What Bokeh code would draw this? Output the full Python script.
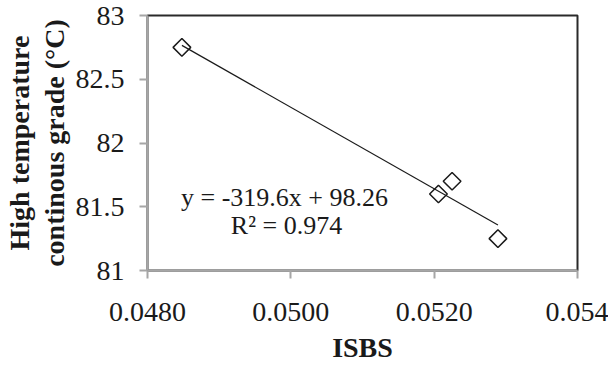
import math
from bokeh.plotting import figure
from bokeh.models import Range1d, FixedTicker, Label, Title
from bokeh.embed import file_html
from bokeh.resources import INLINE

# data
isbs = [0.04848, 0.05206, 0.05225, 0.05289]
hight = [82.75, 81.60, 81.70, 81.25]
slope = -319.6
intercept = 98.26
eq_text = "y = -319.6x + 98.26"
r2_text = "R² = 0.974"
x_ticks = [0.048, 0.050, 0.052, 0.054]
x_tick_labels = ["0.0480", "0.0500", "0.0520", "0.054"]
y_ticks = [81, 81.5, 82, 82.5, 83]
y_tick_labels = ["81", "81.5", "82", "82.5", "83"]
x_title = "ISBS"
y_title_lines = ["High temperature", "continous grade (°C)"]

FONT = "Liberation Serif"
INK = "#1a1a1a"

p = figure(width=608, height=365, output_backend="svg", toolbar_location=None,
           x_range=Range1d(0.048, 0.054), y_range=Range1d(81, 83),
           min_border_left=147, min_border_right=31, min_border_top=15, min_border_bottom=93)
p.background_fill_color = "white"
p.border_fill_color = "white"
p.outline_line_color = "#2a2a2a"
p.outline_line_width = 2
p.grid.visible = False

for ax in (p.xaxis[0], p.yaxis[0]):
    ax.axis_line_color = "#a6a6a6"
    ax.axis_line_width = 2
    ax.major_tick_line_color = "#a6a6a6"
    ax.major_tick_line_width = 2
    ax.major_tick_in = 0
    ax.major_tick_out = 8
    ax.minor_tick_line_color = None
    ax.major_label_text_font = FONT
    ax.major_label_text_font_size = "28px"
    ax.major_label_text_color = INK
    ax.axis_label_text_font = FONT
    ax.axis_label_text_font_size = "28px"
    ax.axis_label_text_font_style = "bold"
    ax.axis_label_text_color = INK

p.xaxis.ticker = FixedTicker(ticks=x_ticks)
p.xaxis.major_label_overrides = {t: l for t, l in zip(x_ticks, x_tick_labels)}
p.xaxis.major_label_standoff = 24
p.xaxis.axis_label = x_title
p.xaxis.axis_label_standoff = 8

p.yaxis.ticker = FixedTicker(ticks=y_ticks)
p.yaxis.major_label_overrides = {t: l for t, l in zip(y_ticks, y_tick_labels)}
p.yaxis.major_label_standoff = 15

# trend line over the data's x extent
x0, x1 = min(isbs), max(isbs)
p.line([x0, x1], [slope * x0 + intercept, slope * x1 + intercept], line_color=INK, line_width=1.2)

p.scatter(isbs, hight, marker="square", angle=math.pi / 4, size=12.5,
          fill_alpha=0, line_color=INK, line_width=1.5)

# equation text (screen units relative to the plot frame)
p.add_layout(Label(x=137, y=73, x_units="screen", y_units="screen", text=eq_text,
                   text_font=FONT, text_font_size="26px", text_color=INK,
                   text_align="center", text_baseline="alphabetic"))
p.add_layout(Label(x=139, y=45, x_units="screen", y_units="screen", text=r2_text,
                   text_font=FONT, text_font_size="26px", text_color=INK,
                   text_align="center", text_baseline="alphabetic"))

# two-line rotated y title (inner line added first)
for txt, so in zip(reversed(y_title_lines), [5, 0]):
    p.add_layout(Title(text=txt, align="center", text_font=FONT, text_font_size="28px",
                       text_font_style="bold", text_color=INK, standoff=so, offset=0), "left")

open("out.html", "w").write(file_html(p, INLINE))
